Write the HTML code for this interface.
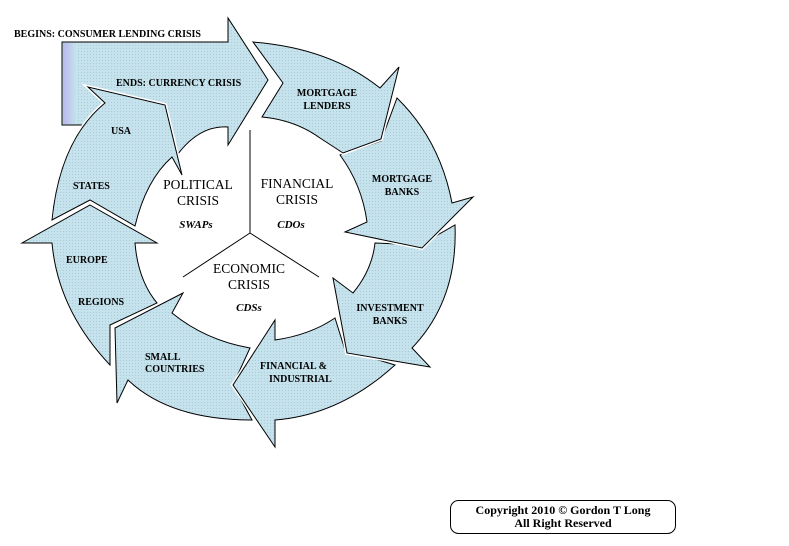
<!DOCTYPE html>
<html><head><style>
body{margin:0;background:#fff;width:789px;height:541px;overflow:hidden}
svg text{font-family:"Liberation Serif",serif}
.s{font-size:10px;font-weight:bold}
.b{font-size:13.5px}
.i{font-size:11px;font-weight:bold;font-style:italic}
.w{fill:none;stroke:#fff;stroke-width:4}
.k{fill:url(#p);stroke:#000;stroke-width:1}
</style></head><body>
<svg width="789" height="541" viewBox="0 0 789 541" xmlns="http://www.w3.org/2000/svg">
<defs>
<pattern id="p" width="3" height="3" patternUnits="userSpaceOnUse">
<rect width="3" height="3" fill="#c6e2ec"/><rect width="1" height="1" fill="#a9ccd9"/>
</pattern>
<linearGradient id="g" x1="0" x2="1"><stop offset="0" stop-color="#b8b8ee"/><stop offset="1" stop-color="#c6e2ec"/></linearGradient>
<path id="a1" d="M62,42 L228,42 L228,18 L268,80 L228,145 L228,127 Q198,125 175,158 L90,125 L62,125 Z"/>
<path id="a2" d="M52,220 Q60,140 105,103 L88,87 L165,105 L182,175 L172,157 Q146,180 135,226 L90,200 Z"/>
<path id="a3" d="M90,205 L157,243 L135,243 Q138,280 157,303 L110,325 L110,365 Q58,310 52,243 L22,243 Z"/>
<path id="a4" d="M115,328 L183,293 L172,313 Q205,340 250,348 L233,385 L252,420 Q170,420 128,380 L117,403 Z"/>
<path id="a5" d="M233,385 L275,320 L275,340 Q310,335 335,318 L345,350 L395,365 Q340,415 275,420 L275,447 Z"/>
<path id="a6" d="M333,278 L353,293 Q372,270 375,243 L420,245 L455,225 Q458,300 412,348 L430,367 L347,353 Z"/>
<path id="a7" d="M340,155 L381,141 L397,98 Q440,140 452,203 L473,197 L422,248 L345,232 L367,222 Q362,185 340,155 Z"/>
<path id="a8" d="M253,42 Q330,48 380,88 L399,67 L381,139 L343,153 L320,138 Q295,120 262,117 L283,83 Z"/>
</defs>
<use href="#a1" class="k"/>
<rect x="63" y="43" width="13" height="81" fill="url(#g)"/>
<use href="#a2" class="w"/><use href="#a2" class="k"/>
<use href="#a3" class="w"/><use href="#a3" class="k"/>
<use href="#a4" class="w"/><use href="#a4" class="k"/>
<use href="#a5" class="w"/><use href="#a5" class="k"/>
<use href="#a6" class="w"/><use href="#a6" class="k"/>
<use href="#a7" class="w"/><use href="#a7" class="k"/>
<use href="#a8" class="w"/><use href="#a8" class="k"/>
<g stroke="#000" stroke-width="1">
<line x1="250" y1="130" x2="250" y2="233"/>
<line x1="250" y1="233" x2="183" y2="277"/>
<line x1="250" y1="233" x2="319" y2="277"/>
</g>
<g class="s">
<text x="14" y="37">BEGINS: CONSUMER LENDING CRISIS</text>
<text x="116" y="86">ENDS: CURRENCY CRISIS</text>
<text x="327" y="96" text-anchor="middle">MORTGAGE</text>
<text x="327" y="109" text-anchor="middle">LENDERS</text>
<text x="402" y="182" text-anchor="middle">MORTGAGE</text>
<text x="402" y="195" text-anchor="middle">BANKS</text>
<text x="390" y="311" text-anchor="middle">INVESTMENT</text>
<text x="390" y="324" text-anchor="middle">BANKS</text>
<text x="260" y="369">FINANCIAL &amp;</text>
<text x="269" y="382">INDUSTRIAL</text>
<text x="145" y="360">SMALL</text>
<text x="145" y="372">COUNTRIES</text>
<text x="78" y="305">REGIONS</text>
<text x="66" y="263">EUROPE</text>
<text x="73" y="189">STATES</text>
<text x="111" y="134">USA</text>
</g>
<g class="b" text-anchor="middle">
<text x="198" y="189">POLITICAL</text>
<text x="198" y="205">CRISIS</text>
<text x="297" y="188">FINANCIAL</text>
<text x="297" y="204">CRISIS</text>
<text x="249" y="273">ECONOMIC</text>
<text x="249" y="289">CRISIS</text>
</g>
<g class="i" text-anchor="middle">
<text x="196" y="228">SWAPs</text>
<text x="291" y="228">CDOs</text>
<text x="249" y="311">CDSs</text>
</g>
<rect x="450.5" y="500.5" width="225" height="33" rx="8" fill="#fff" stroke="#000"/>
<g font-size="12" font-weight="bold" text-anchor="middle" style="font-family:'Liberation Serif',serif">
<text x="563" y="514">Copyright 2010 © Gordon T Long</text>
<text x="563" y="527">All Right Reserved</text>
</g>
</svg>
</body></html>
